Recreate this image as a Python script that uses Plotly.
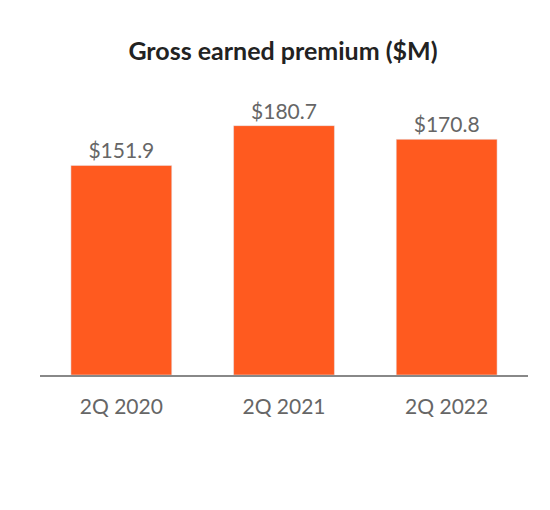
import plotly.graph_objects as go

categories = ["2Q 2020", "2Q 2021", "2Q 2022"]
values = [151.9, 180.7, 170.8]
labels = ["$151.9", "$180.7", "$170.8"]

fig = go.Figure(go.Bar(
    x=categories, y=values, text=labels, textposition="outside",
    marker_color="#FF5A1F", width=0.62, cliponaxis=False,
    textfont=dict(family="Lato", size=21, color="#666666"),
))
fig.update_layout(
    width=550, height=510,
    margin=dict(l=32, r=30, t=91, b=143),
    paper_bgcolor="white", plot_bgcolor="white",
    title=dict(text="<b>Gross earned premium ($M)</b>", x=0.5, xanchor="center", y=0.915, yanchor="middle",
               font=dict(family="Lato", size=25, color="#222222")),
    font=dict(family="Lato"),
    showlegend=False,
    xaxis=dict(showline=True, linecolor="#888888", linewidth=1.5, ticks="", ticklabelstandoff=12,
               tickfont=dict(family="Lato", size=21, color="#666666")),
    yaxis=dict(range=[0, 200], visible=False),
)
fig.write_html("out.html")
